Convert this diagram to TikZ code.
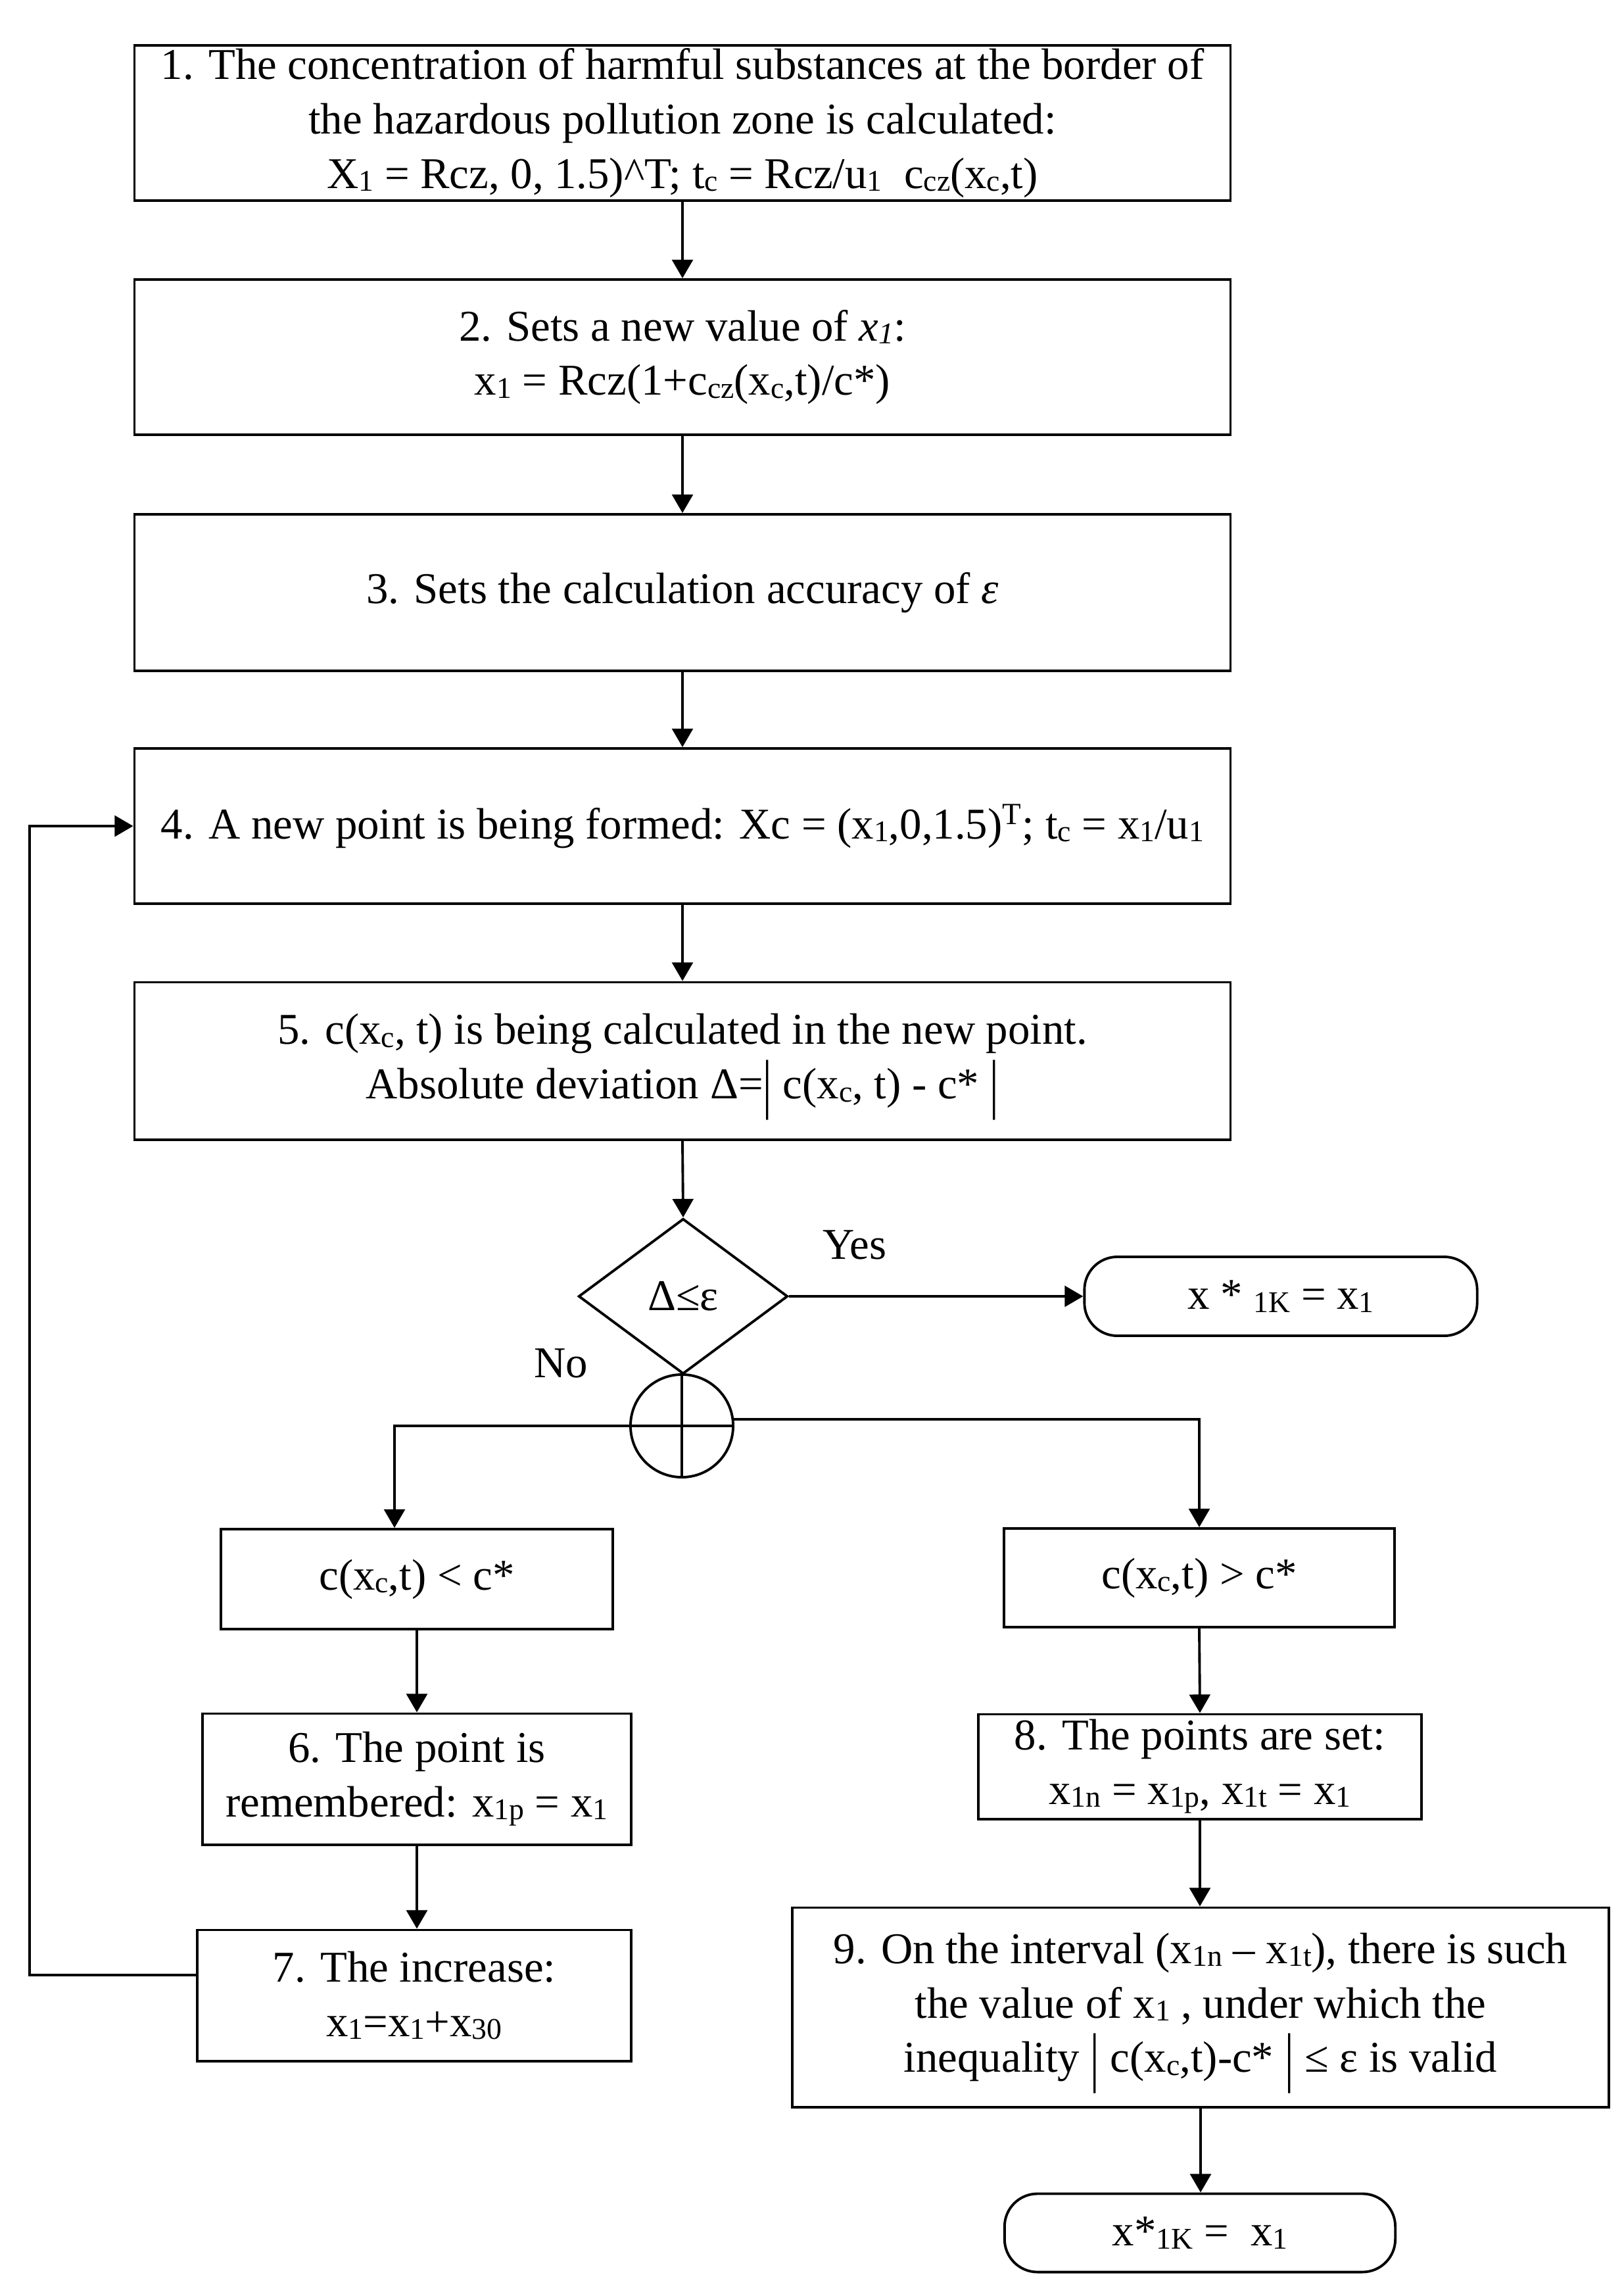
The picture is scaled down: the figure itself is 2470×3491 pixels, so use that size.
\documentclass[tikz,border=0pt]{standalone}
\usepackage{fontspec}
\setmainfont{Liberation Serif}
\usetikzlibrary{arrows.meta,shapes.geometric,calc}
\newcommand\lo[1]{\raisebox{-0.15ex}{\fontsize{13}{13}\selectfont #1}}
\newcommand\tallbar{\smash{\raisebox{-0.35ex}{\scalebox{1}[1.5]{|}}}}
\begin{document}
\begin{tikzpicture}[x=0.01cm,y=-0.01cm,
  every node/.style={font=\fontsize{19}{23.5}\selectfont},
  box/.style={draw,line width=1.1pt,rectangle,align=center,inner sep=0pt},
  term/.style={draw,line width=1.1pt,rectangle,rounded corners=0.5cm,align=center,inner sep=0pt},
  arr/.style={line width=1.1pt,-{Triangle[length=8pt,width=9pt]}},
  ln/.style={line width=1.1pt}]
\useasboundingbox (0,0) rectangle (2470,3491);
\fill[white] (0,0) rectangle (2470,3491);

\node[box,minimum width=16.66cm,minimum height=2.36cm] (b1) at (1038,187)
 {1. The concentration of harmful substances at the border of\\
  the hazardous pollution zone is calculated:\\
  X\lo{1} = Rcz, 0, 1.5)\^{}T; t\lo{c} = Rcz/u\lo{1}\ \ c\lo{cz}(x\lo{c},t)};
\node[box,minimum width=16.66cm,minimum height=2.36cm] (b2) at (1038,543)
 {2. Sets a new value of \textit{x\lo{1}}:\\
  x\lo{1} = Rcz(1+c\lo{cz}(x\lo{c},t)/c*)};
\node[box,minimum width=16.66cm,minimum height=2.38cm] (b3) at (1038,901)
 {3. Sets the calculation accuracy of \textit{ε}};
\node[box,minimum width=16.66cm,minimum height=2.36cm] (b4) at (1038,1256)
 {4. A new point is being formed: Xc = (x\lo{1},0,1.5)\textsuperscript{T}; t\lo{c} = x\lo{1}/u\lo{1}};
\node[box,minimum width=16.66cm,minimum height=2.39cm] (b5) at (1038,1613)
 {5. c(x\lo{c}, t) is being calculated in the new point.\\
  Absolute deviation Δ=\tallbar\ c(x\lo{c}, t) - c*\ \tallbar};

\node[draw,line width=1.1pt,diamond,minimum width=3.18cm,minimum height=2.36cm,inner sep=0pt] (dia) at (1039,1971) {Δ≤ε};
\node[draw,line width=1.1pt,circle,minimum size=1.56cm,inner sep=0pt] (ci) at (1037,2168) {};
\draw[ln] (ci.north) -- (ci.south);
\draw[ln] (ci.west) -- (ci.east);

\node[term,minimum width=5.97cm,minimum height=1.2cm] (yes) at (1948,1971)
 {x * \lo{1K} = x\lo{1}};
\node (yeslbl) at (1300,1893) {Yes};
\node (nolbl) at (853,2073) {No};

\node[box,minimum width=5.95cm,minimum height=1.52cm] (lt) at (634,2401) {c(x\lo{c},t) < c*};
\node[box,minimum width=6.52cm,minimum height=1.99cm] (b6) at (634,2705)
 {6. The point is\\ remembered: x\lo{1p} = x\lo{1}};
\node[box,minimum width=6.6cm,minimum height=1.99cm] (b7) at (630,3034)
 {7. The increase:\\ x\lo{1}=x\lo{1}+x\lo{30}};

\node[box,minimum width=5.94cm,minimum height=1.5cm] (rt) at (1824,2399) {c(x\lo{c},t) > c*};
\node[box,minimum width=6.74cm,minimum height=1.59cm] (b8) at (1825,2686)
 {8. The points are set:\\ x\lo{1n} = x\lo{1p}, x\lo{1t} = x\lo{1}};
\node[box,minimum width=12.41cm,minimum height=3.03cm] (b9) at (1826,3052)
 {9. On the interval (x\lo{1n} – x\lo{1t}), there is such\\
  the value of x\lo{1} , under which the\\
  inequality \tallbar\ c(x\lo{c},t)-c*\ \tallbar\ ≤ ε is valid};
\node[term,minimum width=5.94cm,minimum height=1.19cm] (fin) at (1825,3395)
 {x*\lo{1K} = \ x\lo{1}};

\draw[arr] (b1.south) -- (b2.north);
\draw[arr] (b2.south) -- (b3.north);
\draw[arr] (b3.south) -- (b4.north);
\draw[arr] (b4.south) -- (b5.north);
\draw[arr] (b5.south) -- (dia.north);
\draw[arr] (dia.east) -- (yes.west);
\draw[arr] (ci.west) -| ($(lt.north)+(-34,0)$);
\draw[arr] (ci.7) -| (rt.north);
\draw[arr] (lt.south) -- (b6.north);
\draw[arr] (b6.south) -- (b6.south |- b7.north);
\draw[arr] (rt.south) -- (b8.north);
\draw[arr] (b8.south) -- (b8.south |- b9.north);
\draw[arr] (b9.south) -- (b9.south |- fin.north);
\draw[arr] ($(b7.west)+(0,-31)$) -- ++(-253,0) |- (b4.west);
\end{tikzpicture}
\end{document}
